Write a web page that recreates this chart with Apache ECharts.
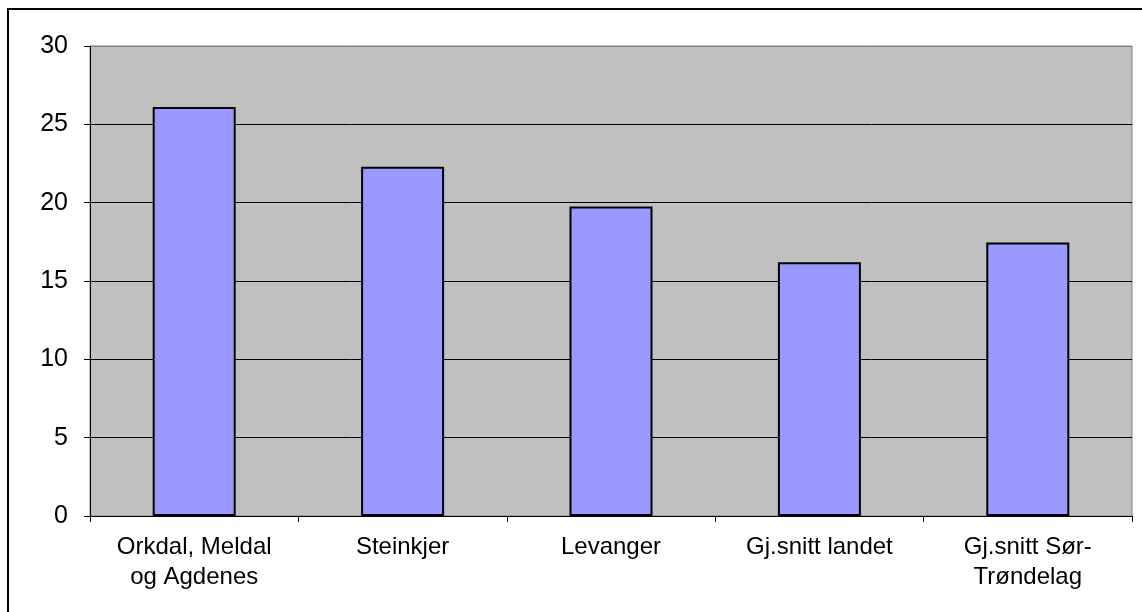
<!DOCTYPE html>
<html>
<head>
<meta charset="utf-8">
<script src="https://cdn.jsdelivr.net/npm/echarts@6/dist/echarts.min.js"></script>
<style>
  html, body { margin: 0; padding: 0; background: #fff; }
  #chart { width: 1142px; height: 612px; }
</style>
</head>
<body>
<div id="chart"></div>
<script>
// kategorier og verdier lest av figuren
var categories = ['Orkdal, Meldal\nog Agdenes', 'Steinkjer', 'Levanger', 'Gj.snitt landet', 'Gj.snitt Sør-\nTrøndelag'];
var values = [26.1, 22.3, 19.75, 16.2, 17.45];
var yMin = 0, yMax = 30, yStep = 5;

var chart = echarts.init(document.getElementById('chart'));

chart.setOption({
    backgroundColor: '#ffffff',
    animation: false,
    textStyle: { fontFamily: 'Liberation Sans, Arial, sans-serif' },
    graphic: [{
        type: 'rect',
        shape: { x: 8, y: 9, width: 1150, height: 620 },
        style: { fill: 'none', stroke: '#000', lineWidth: 2 },
        silent: true
    }],
    grid: {
        left: 90, right: 10, top: 46, bottom: 96,
        show: true,
        backgroundColor: '#c0c0c0',
        borderColor: '#808080',
        borderWidth: 1
    },
    xAxis: {
        type: 'category',
        data: categories,
        axisLine: { lineStyle: { color: '#000', width: 1 } },
        axisTick: { show: true, length: 6, inside: false, lineStyle: { color: '#000' } },
        axisLabel: { color: '#000', fontSize: 24, lineHeight: 30, margin: 16, interval: 0 }
    },
    yAxis: {
        type: 'value',
        min: yMin, max: yMax, interval: yStep,
        axisLine: { show: true, lineStyle: { color: '#000', width: 1 } },
        axisTick: { show: true, length: 6, lineStyle: { color: '#000' } },
        axisLabel: { color: '#000', fontSize: 25, margin: 22 },
        splitLine: { show: true, lineStyle: { color: ['#000', '#000', '#000', '#000', '#000', '#000', '#808080'], width: 1 } }
    },
    series: [{
        type: 'bar',
        data: values,
        barWidth: 83,
        itemStyle: { color: '#9999ff', borderColor: '#000', borderWidth: 2 }
    }]
});
</script>
</body>
</html>
